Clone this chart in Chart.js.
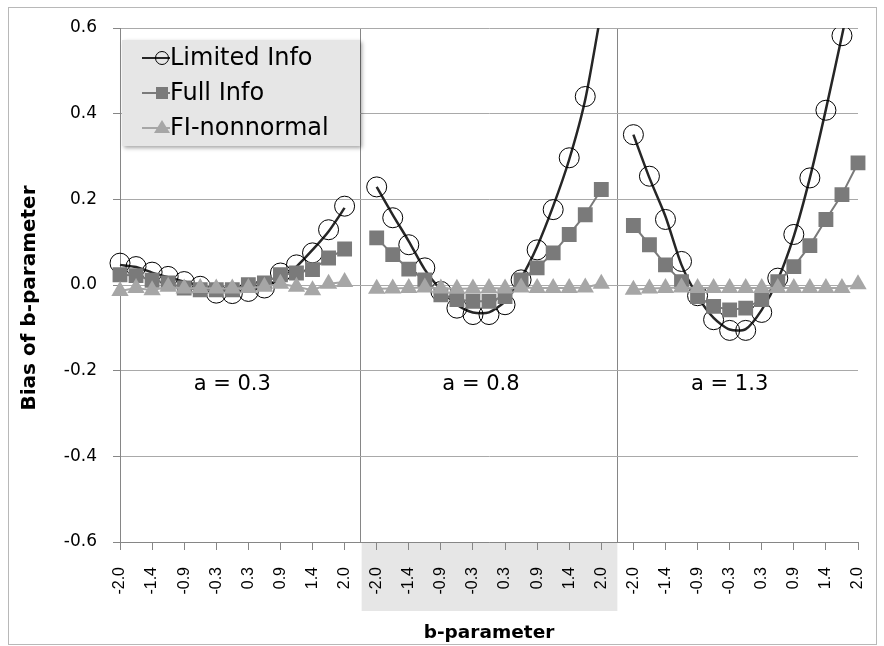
<!DOCTYPE html>
<html>
<head>
<meta charset="utf-8">
<script src="https://cdn.jsdelivr.net/npm/chart.js@4.4.1/dist/chart.umd.min.js"></script>
<style>
  html, body { margin: 0; padding: 0; background: #fff; }
  canvas { display: block; }
</style>
</head>
<body>
<canvas id="chart" width="884" height="646"></canvas>
<script>
// b-parameter values of one panel (the three panels share them)
const bLabels = ['-2.0', '-1.7', '-1.4', '-1.1', '-0.9', '-0.6', '-0.3', '0.0', '0.3', '0.6', '0.9', '1.1', '1.4', '1.7', '2.0'];

// panel names and where they sit (category index, bias value)
const panelNames = ['a = 0.3', 'a = 0.8', 'a = 1.3'];
const panelNameAt = [7, 22.5, 38];
const panelNameY = -0.233;

// Limited Info: marker values and the drawn curve
const limitedA03 = [0.051, 0.043, 0.030, 0.020, 0.008, -0.003, -0.019, -0.020, -0.015, -0.007, 0.028, 0.047, 0.075, 0.129, 0.184];
const limitedA08 = [0.229, 0.157, 0.094, 0.040, -0.015, -0.054, -0.069, -0.069, -0.046, 0.012, 0.082, 0.176, 0.297, 0.440, null];
const limitedA13 = [0.351, 0.254, 0.153, 0.055, -0.025, -0.081, -0.106, -0.106, -0.064, 0.016, 0.118, 0.250, 0.408, 0.582, null];
const curveA03 = [0.047, 0.042, 0.029, 0.018, 0.008, -0.002, -0.010, -0.014, -0.012, -0.004, 0.015, 0.043, 0.082, 0.125, 0.180];
const curveA08 = [0.229, 0.164, 0.102, 0.036, -0.011, -0.046, -0.064, -0.064, -0.038, 0.016, 0.090, 0.184, 0.293, 0.433, 0.640];
const curveA13 = [0.351, 0.250, 0.160, 0.047, -0.026, -0.077, -0.104, -0.103, -0.058, 0.012, 0.114, 0.250, 0.410, 0.582, 0.760];

// Full Info
const fullA03 = [0.024, 0.022, 0.011, 0.005, -0.007, -0.011, -0.011, -0.011, 0.001, 0.005, 0.024, 0.028, 0.036, 0.063, 0.084];
const fullA08 = [0.110, 0.071, 0.037, 0.012, -0.023, -0.034, -0.038, -0.038, -0.027, 0.012, 0.040, 0.075, 0.118, 0.164, 0.223];
const fullA13 = [0.139, 0.094, 0.047, 0.008, -0.027, -0.050, -0.058, -0.054, -0.034, 0.008, 0.043, 0.092, 0.153, 0.211, 0.285];

// FI-nonnormal
const nonnormalA03 = [-0.014, -0.007, -0.012, -0.004, -0.008, -0.007, -0.008, -0.008, -0.007, -0.004, 0.003, -0.004, -0.012, 0.003, 0.007];
const nonnormalA08 = [-0.009, -0.008, -0.007, -0.006, -0.008, -0.009, -0.008, -0.007, -0.008, -0.006, -0.007, -0.007, -0.007, -0.006, 0.003];
const nonnormalA13 = [-0.011, -0.008, -0.007, -0.006, -0.007, -0.007, -0.007, -0.007, -0.007, -0.007, -0.007, -0.007, -0.007, -0.007, 0.002];

// the three panels sit on one category axis with an empty slot between them
const join = (a, b, c) => [...a, null, ...b, null, ...c];
const categories = [...bLabels, '', ...bLabels, '', ...bLabels];
const gapIndexes = [bLabels.length, 2 * bLabels.length + 1];

const FONT = 'DejaVu Sans';
const AXIS_GRAY = '#868686';
const GRID_GRAY = '#a9a9a9';

// white page, outer frame and the shaded label band under the middle panel
const framePlugin = {
  id: 'frame',
  beforeDraw(chart) {
    const ctx = chart.ctx;
    const x = chart.scales.x;
    ctx.save();
    ctx.fillStyle = '#fff';
    ctx.fillRect(0, 0, chart.width, chart.height);
    ctx.strokeStyle = '#b8b8b8';
    ctx.lineWidth = 1;
    ctx.strokeRect(8.5, 7.5, 868, 637);
    const x0 = x.getPixelForTick(gapIndexes[0]);
    const x1 = x.getPixelForTick(gapIndexes[1]);
    ctx.fillStyle = '#e6e6e6';
    ctx.fillRect(x0 + 1, chart.chartArea.bottom + 1, x1 - x0 - 1, 68);

    // y axis title, sitting a little below the middle of the axis
    ctx.fillStyle = '#000';
    ctx.font = 'bold 20px "' + FONT + '"';
    ctx.textAlign = 'center';
    ctx.textBaseline = 'middle';
    ctx.translate(30, chart.chartArea.top + 270);
    ctx.rotate(-Math.PI / 2);
    ctx.fillText('Bias of b-parameter', 0, 0);
    ctx.restore();
  },
  afterDatasetsDraw(chart) {
    const ctx = chart.ctx;
    const x = chart.scales.x, y = chart.scales.y;
    ctx.save();
    ctx.font = '21px "' + FONT + '"';
    ctx.fillStyle = '#000';
    ctx.textAlign = 'center';
    ctx.textBaseline = 'middle';
    panelNames.forEach((name, i) => {
      ctx.fillText(name, x.getPixelForValue(panelNameAt[i]), y.getPixelForValue(panelNameY));
    });
    ctx.restore();
  },
  afterDraw(chart) {
    // legend box floating over the first panel
    const ctx = chart.ctx;
    const left = chart.chartArea.left + 2, top = 40;
    ctx.save();
    ctx.shadowColor = 'rgba(0,0,0,0.35)';
    ctx.shadowBlur = 4;
    ctx.shadowOffsetX = 2;
    ctx.shadowOffsetY = 2;
    ctx.fillStyle = '#e6e6e6';
    ctx.fillRect(left, top, 238, 106);
    ctx.restore();

    const items = [
      { text: 'Limited Info', ds: chart.data.datasets[1] },
      { text: 'Full Info', ds: chart.data.datasets[2] },
      { text: 'FI-nonnormal', ds: chart.data.datasets[3] }
    ];
    ctx.save();
    ctx.font = '24px "' + FONT + '"';
    ctx.textBaseline = 'middle';
    items.forEach((it, i) => {
      const cy = top + 18 + i * 35;
      const cx = left + 40;
      const lineColor = i === 0 ? chart.data.datasets[0].borderColor : it.ds.borderColor;
      ctx.strokeStyle = lineColor;
      ctx.lineWidth = 2;
      ctx.beginPath();
      ctx.moveTo(left + 20, cy);
      ctx.lineTo(left + 48, cy);
      ctx.stroke();
      ctx.fillStyle = it.ds.pointBackgroundColor;
      ctx.strokeStyle = it.ds.pointBorderColor;
      ctx.lineWidth = 1;
      if (it.ds.pointStyle === 'circle') {
        ctx.beginPath();
        ctx.arc(cx, cy, 6.5, 0, Math.PI * 2);
        ctx.stroke();
      } else if (it.ds.pointStyle === 'rect') {
        ctx.fillRect(cx - 6, cy - 6, 12, 12);
      } else {
        ctx.beginPath();
        ctx.moveTo(cx, cy - 8);
        ctx.lineTo(cx + 8, cy + 5);
        ctx.lineTo(cx - 8, cy + 5);
        ctx.closePath();
        ctx.fill();
      }
      ctx.fillStyle = '#000';
      ctx.fillText(it.text, left + 48, cy + 1);
    });
    ctx.restore();
  }
};

const ctx = document.getElementById('chart').getContext('2d');
new Chart(ctx, {
  type: 'line',
  data: {
    labels: categories,
    datasets: [
      {
        label: 'Limited Info curve',
        data: join(curveA03, curveA08, curveA13),
        borderColor: '#262626',
        borderWidth: 2.5,
        pointRadius: 0,
        tension: 0.25,
        fill: false,
        order: 4
      },
      {
        label: 'Limited Info',
        data: join(limitedA03, limitedA08, limitedA13),
        showLine: false,
        pointStyle: 'circle',
        pointRadius: 10,
        pointBorderWidth: 1,
        pointBorderColor: '#000',
        pointBackgroundColor: 'rgba(0,0,0,0)',
        borderColor: '#000',
        order: 3
      },
      {
        label: 'Full Info',
        data: join(fullA03, fullA08, fullA13),
        borderColor: '#7a7a7a',
        borderWidth: 2,
        pointStyle: 'rect',
        pointRadius: 10.5,
        pointBorderWidth: 0,
        pointBorderColor: '#7a7a7a',
        pointBackgroundColor: '#7a7a7a',
        tension: 0,
        order: 2
      },
      {
        label: 'FI-nonnormal',
        data: join(nonnormalA03, nonnormalA08, nonnormalA13),
        borderColor: '#a6a6a6',
        borderWidth: 2,
        pointStyle: 'triangle',
        pointRadius: 10,
        pointBorderWidth: 0,
        pointBorderColor: '#a6a6a6',
        pointBackgroundColor: '#a6a6a6',
        tension: 0,
        order: 1
      }
    ]
  },
  options: {
    responsive: false,
    animation: false,
    layout: { padding: { left: 8, right: 26, top: 28, bottom: 2 } },
    plugins: {
      legend: { display: false },
      tooltip: { enabled: false }
    },
    scales: {
      x: {
        type: 'category',
        offset: false,
        afterFit: scale => {
          scale.height = 102;
          scale.paddingLeft = 0;
          scale.paddingRight = 0;
        },
        border: { color: AXIS_GRAY, width: 1 },
        grid: {
          color: c => gapIndexes.includes(c.index) ? AXIS_GRAY : 'rgba(0,0,0,0)',
          tickColor: c => c.index % 2 === 0 ? AXIS_GRAY : 'rgba(0,0,0,0)',
          tickLength: 8,
          drawTicks: true
        },
        ticks: {
          autoSkip: false,
          minRotation: 90,
          maxRotation: 90,
          padding: 17,
          color: '#000',
          font: { family: 'Liberation Sans', size: 16 },
          callback: (v, i) => i % 2 === 0 ? categories[i] : ''
        },
        title: {
          display: true,
          text: 'b-parameter',
          color: '#000',
          font: { family: FONT, size: 18.5, weight: 'bold' },
          padding: { top: 0, bottom: 0 }
        }
      },
      y: {
        min: -0.6,
        max: 0.6,
        afterFit: scale => { scale.width = 112; },
        border: { color: AXIS_GRAY, width: 1 },
        grid: { color: GRID_GRAY, tickColor: AXIS_GRAY, tickLength: 7 },
        ticks: {
          stepSize: 0.2,
          padding: 16,
          color: '#000',
          font: { family: FONT, size: 17 },
          callback: v => v.toFixed(1)
        }
      }
    }
  },
  plugins: [framePlugin]
});
</script>
</body>
</html>
